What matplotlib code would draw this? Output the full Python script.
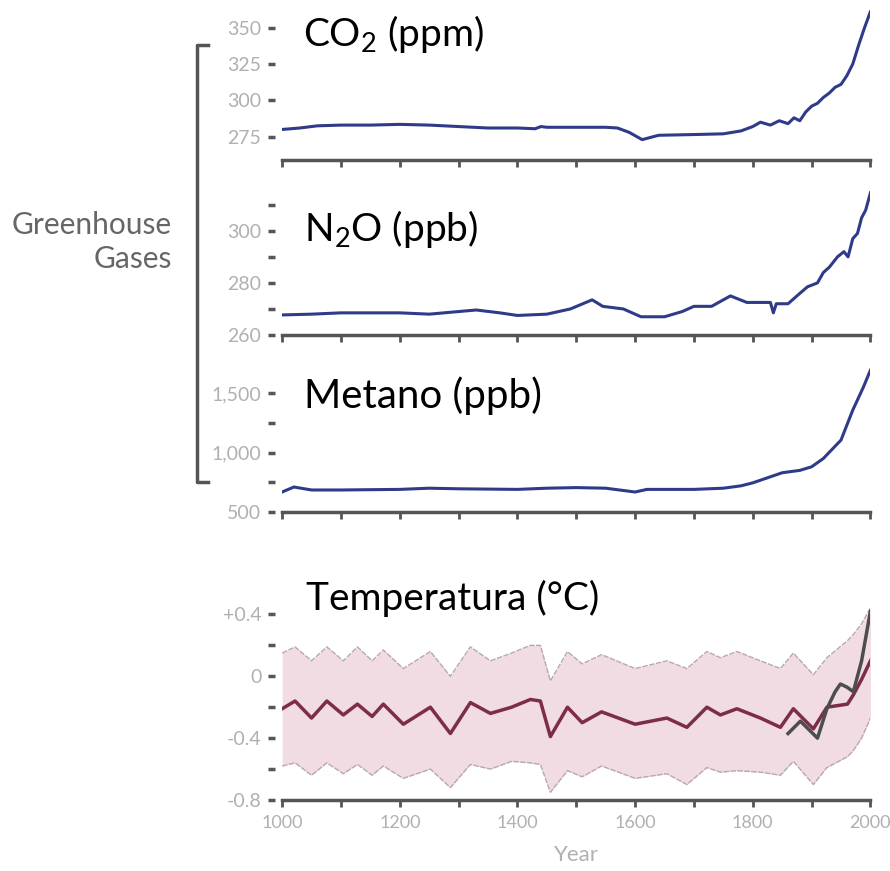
import numpy as np
import matplotlib
matplotlib.use('Agg')
import matplotlib.pyplot as plt
from matplotlib.ticker import FixedLocator, FuncFormatter

plt.rcParams['font.family'] = ['Lato', 'DejaVu Sans']
plt.rcParams['mathtext.fontset'] = 'custom'
plt.rcParams['mathtext.rm'] = 'Lato'
plt.rcParams['mathtext.it'] = 'Lato'

# CO2 (ppm)
co2_years = [1000, 1030, 1060, 1100, 1150, 1200, 1250, 1300, 1350, 1400, 1430, 1440, 1450,
             1500, 1550, 1570, 1590, 1612, 1640, 1700, 1750, 1780, 1800, 1813, 1830, 1845,
             1860, 1870, 1880, 1890, 1900, 1910, 1920, 1930, 1940, 1950, 1960, 1970, 1980,
             1990, 2000]
co2_vals = [280, 281, 282.5, 283, 283, 283.5, 283, 282, 281, 281, 280.5, 282, 281.5,
            281.5, 281.5, 281, 278, 273, 276, 276.5, 277, 279, 282, 285, 283, 286,
            284, 288, 286, 292, 296, 298, 302, 305, 309, 311, 317, 325, 338,
            350, 361]

# N2O (ppb)
n2o_years = [1000, 1050, 1100, 1200, 1250, 1300, 1330, 1370, 1400, 1450, 1490, 1527, 1545,
             1580, 1610, 1650, 1680, 1700, 1730, 1762, 1790, 1830, 1835, 1840, 1860, 1875,
             1893, 1910, 1920, 1930, 1944, 1955, 1962, 1970, 1978, 1985, 1992, 2000]
n2o_vals = [267.7, 268, 268.5, 268.5, 268, 269, 269.6, 268.5, 267.5, 268, 270, 273.5, 271,
            270, 267, 267, 269, 271, 271, 275, 272.5, 272.5, 268.5, 272, 272, 275,
            278.5, 280, 284, 286, 290, 292, 290, 297, 299, 305, 308, 314.6]

# Metano (ppb)
ch4_years = [1000, 1020, 1050, 1100, 1200, 1250, 1300, 1400, 1450, 1500, 1550, 1600, 1620,
             1700, 1750, 1780, 1800, 1850, 1880, 1900, 1920, 1950, 1970, 1988, 2000]
ch4_vals = [668, 710, 685, 685, 690, 700, 695, 690, 700, 705, 700, 668, 690,
            690, 700, 720, 745, 830, 850, 880, 950, 1105, 1357, 1550, 1693]

# Temperatura (°C): reconstruction mean and uncertainty band
temp_years = [1000, 1022, 1050, 1076, 1104, 1128, 1153, 1172, 1206, 1252, 1286, 1320, 1354,
              1390, 1422, 1439, 1456, 1485, 1510, 1543, 1600, 1654, 1688, 1722, 1745, 1773,
              1813, 1847, 1869, 1903, 1926, 1961, 1971, 1985, 2000]
temp_mean = [-0.21, -0.16, -0.27, -0.16, -0.25, -0.18, -0.26, -0.18, -0.31, -0.20, -0.37, -0.17, -0.24,
             -0.20, -0.15, -0.16, -0.39, -0.20, -0.30, -0.23, -0.31, -0.27, -0.33, -0.20, -0.25, -0.21,
             -0.27, -0.33, -0.21, -0.34, -0.20, -0.18, -0.12, -0.02, 0.10]
temp_upper = [0.15, 0.19, 0.10, 0.19, 0.10, 0.19, 0.10, 0.17, 0.05, 0.16, 0.00, 0.19, 0.10,
              0.15, 0.20, 0.20, -0.03, 0.16, 0.08, 0.14, 0.05, 0.10, 0.05, 0.16, 0.12, 0.16,
              0.10, 0.05, 0.15, 0.01, 0.12, 0.23, 0.27, 0.34, 0.44]
temp_lower = [-0.58, -0.56, -0.64, -0.56, -0.63, -0.57, -0.64, -0.58, -0.66, -0.60, -0.72, -0.57, -0.60,
              -0.55, -0.56, -0.57, -0.75, -0.61, -0.65, -0.58, -0.66, -0.63, -0.70, -0.59, -0.62, -0.61,
              -0.62, -0.64, -0.55, -0.70, -0.59, -0.52, -0.48, -0.40, -0.27]
# instrumental record
inst_years = [1860, 1881, 1910, 1926, 1940, 1949, 1960, 1971, 1985, 2000]
inst_vals = [-0.37, -0.29, -0.40, -0.21, -0.10, -0.05, -0.07, -0.10, 0.10, 0.42]

fig = plt.figure(figsize=(8.9, 8.71), dpi=100)

axis_c = '#555555'
label_c = '#b0b0b0'
blue = '#2f3b88'


def style(ax, ylim, major, minor, fmt, xlabels=False):
    ax.set_xlim(1000, 2000)
    ax.set_ylim(*ylim)
    for s in ['top', 'right']:
        ax.spines[s].set_visible(False)
    ax.spines['left'].set_position(('outward', 5))
    ax.spines['left'].set_visible(False)
    ax.spines['bottom'].set_color(axis_c)
    ax.spines['bottom'].set_linewidth(2.5)
    ax.xaxis.set_major_locator(FixedLocator(np.arange(1000, 2001, 100)))
    ax.tick_params(axis='x', direction='out', length=5, width=2, color=axis_c,
                   labelsize=13, labelcolor=label_c, pad=6)
    if xlabels:
        ax.xaxis.set_major_formatter(FuncFormatter(lambda v, p: '%d' % v if v % 200 == 0 else ''))
    else:
        ax.set_xticklabels([])
    ax.yaxis.set_major_locator(FixedLocator(major))
    ax.yaxis.set_minor_locator(FixedLocator(minor))
    ax.yaxis.set_major_formatter(FuncFormatter(fmt))
    ax.tick_params(axis='y', which='both', direction='out', length=5, width=2.5,
                   color=axis_c, labelsize=14, labelcolor=label_c, pad=5)
    ax.patch.set_alpha(0)


ax1 = fig.add_axes([0.317, 0.8163, 0.661, 0.172])
ax1.plot(co2_years, co2_vals, color=blue, lw=2.2)
style(ax1, (259, 362), [275, 300, 325, 350], [], lambda v, p: '%d' % v)
ax1.text(0.036, 0.84, r'CO$_\mathrm{2}$ (ppm)', transform=ax1.transAxes,
         fontsize=28, va='center', ha='left')

ax2 = fig.add_axes([0.317, 0.6154, 0.661, 0.1734])
ax2.plot(n2o_years, n2o_vals, color=blue, lw=2.2)
style(ax2, (260, 318), [260, 280, 300], [270, 290, 310], lambda v, p: '%d' % v)
ax2.text(0.038, 0.70, r'N$_\mathrm{2}$O (ppb)', transform=ax2.transAxes,
         fontsize=28, va='center', ha='left')

ax3 = fig.add_axes([0.317, 0.4122, 0.661, 0.1665])
ax3.plot(ch4_years, ch4_vals, color=blue, lw=2.2)
style(ax3, (500, 1720), [500, 1000, 1500], [750, 1250], lambda v, p: '{:,.0f}'.format(v))
ax3.text(0.038, 0.80, 'Metano (ppb)', transform=ax3.transAxes,
         fontsize=29, va='center', ha='left')

ax4 = fig.add_axes([0.317, 0.0815, 0.661, 0.2273])
ax4.fill_between(temp_years, temp_lower, temp_upper, color='#f0dce2', lw=0)
ax4.plot(temp_years, temp_upper, color='#b8a8ac', lw=1, ls=(0, (4, 1)))
ax4.plot(temp_years, temp_lower, color='#b8a8ac', lw=1, ls=(0, (4, 1)))
ax4.plot(temp_years, temp_mean, color='#7d2d48', lw=2.5, solid_joinstyle='round')
ax4.plot(inst_years, inst_vals, color='#4d4d4d', lw=2.5, solid_joinstyle='round')
style(ax4, (-0.8, 0.48), [-0.8, -0.4, 0, 0.4], [-0.6, -0.2, 0.2],
      lambda v, p: '0' if abs(v) < 1e-9 else '%+.1f' % v, xlabels=True)
ax4.set_xlabel('Year', color=label_c, fontsize=16, labelpad=10)
ax4.text(0.04, 1.02, 'Temperatura (°C)', transform=ax4.transAxes,
         fontsize=28, va='center', ha='left')

# bracket grouping the greenhouse gases
fig.add_artist(plt.Line2D([208 / 890, 197 / 890, 197 / 890, 208 / 890],
                          [1 - 45 / 871, 1 - 45 / 871, 1 - 482 / 871, 1 - 482 / 871],
                          color=axis_c, lw=2.5))
fig.text(172 / 890, 1 - 242 / 871, 'Greenhouse\nGases', ha='right', va='center',
         fontsize=21.5, color='#666666', linespacing=1.3)

fig.savefig('out.png', dpi=100)
